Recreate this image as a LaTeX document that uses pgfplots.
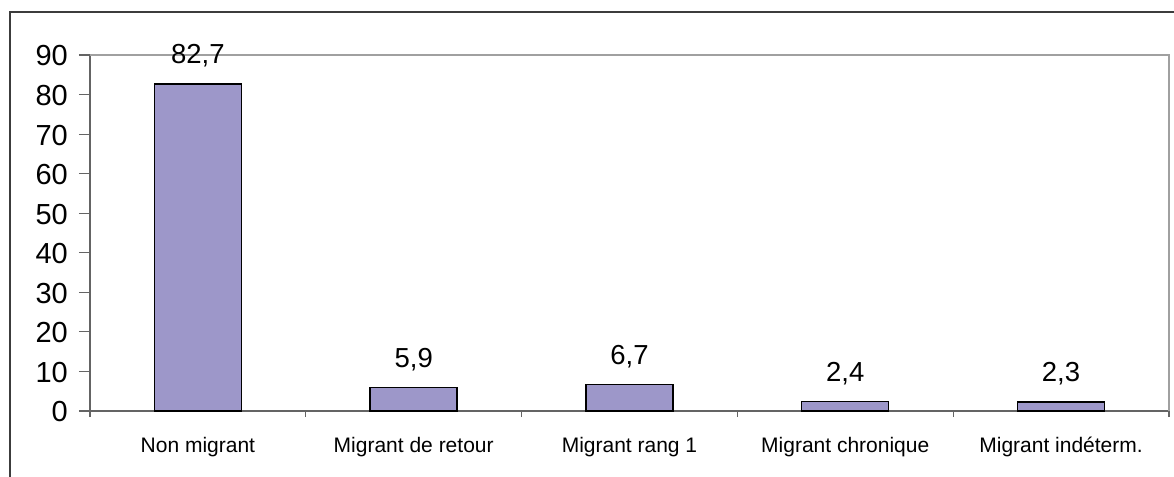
\documentclass[border=0pt]{standalone}
\usepackage{fontspec}
\setmainfont{Liberation Sans}
\usepackage{pgfplots}
\pgfplotsset{compat=1.18}
\definecolor{barfill}{RGB}{157,151,201}
\definecolor{axisgray}{RGB}{100,100,100}
\definecolor{bordergray}{RGB}{160,160,160}
\definecolor{framegray}{RGB}{60,60,60}
\begin{document}
\begin{tikzpicture}
\begin{axis}[
  at={(0,0)}, anchor=south west,
  width=1079bp, height=356bp, scale only axis,
  xmin=-0.5, xmax=4.5, ymin=0, ymax=90,
  ytick={0,10,...,90},
  xtick={0,1,2,3,4},
  xticklabels={Non migrant, Migrant de retour, Migrant rang 1, Migrant chronique, Migrant indéterm.},
  minor xtick={-0.5,0.5,1.5,2.5,3.5,4.5},
  axis lines*=left,
  axis line style={draw=axisgray, line width=1.5bp, -},
  tick align=outside,
  major tick length=11bp,
  minor tick length=6bp,
  major x tick style={draw=none},
  every tick/.style={draw=axisgray, line width=1.2bp},
  /pgf/number format/assume math mode=true,
  yticklabel style={font=\fontsize{29bp}{32bp}\selectfont, inner sep=0pt, xshift=-11bp, yshift=-1bp},
  xticklabel style={font=\fontsize{21bp}{24bp}\selectfont, anchor=base, yshift=-30bp},
  ybar, bar width=87bp,
  clip=false,
]
\draw[bordergray, line width=1.5bp] (rel axis cs:0,1) -- (rel axis cs:1,1) -- (rel axis cs:1,0);
\addplot[fill=barfill, draw=black, line width=1.4bp,
  nodes near coords={\pgfmathprintnumber[fixed,fixed zerofill,precision=1,use comma]{\pgfplotspointmeta}},
  every node near coord/.append style={font=\fontsize{27.5bp}{30bp}\selectfont, anchor=base, yshift=20bp, text=black}]
  coordinates {(0,82.7) (1,5.9) (2,6.7) (3,2.4) (4,2.3)};
\end{axis}
\draw[framegray, line width=2bp] (-80bp,-120bp) -- (-80bp,399bp) -- (1200bp,399bp);
\pgfresetboundingbox
\useasboundingbox (-90bp,-66bp) rectangle (1084bp,411bp);
\end{tikzpicture}
\end{document}
